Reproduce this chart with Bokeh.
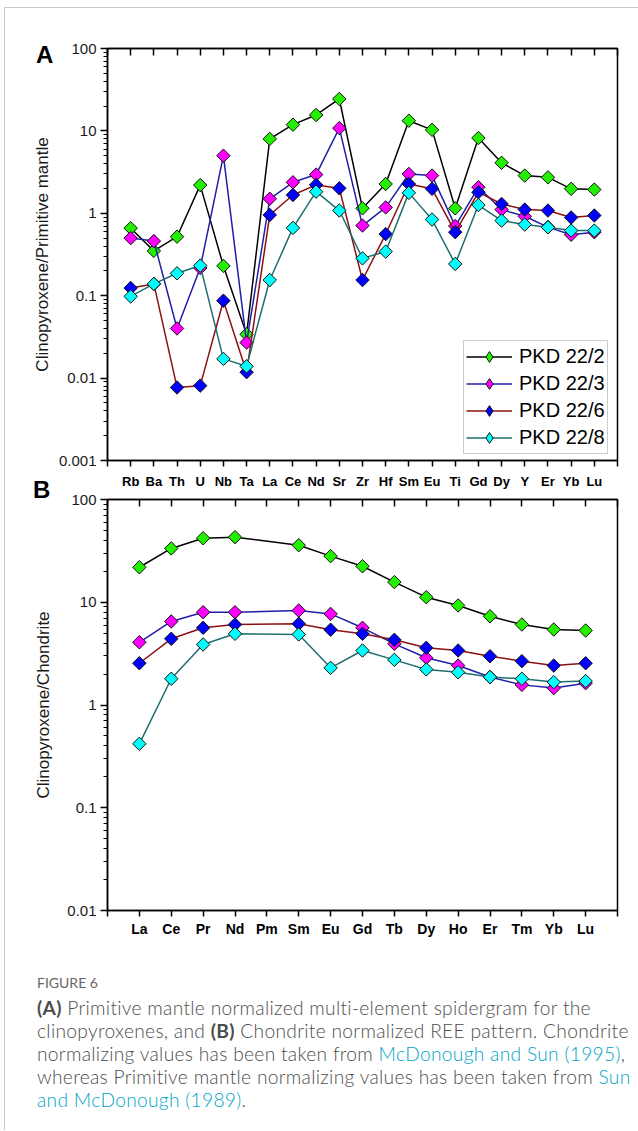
import math
from bokeh.plotting import figure
from bokeh.models import (Range1d, FixedTicker, LinearAxis, Legend, LegendItem,
                          Div, CustomJSTickFormatter)
from bokeh.layouts import column
from bokeh.embed import file_html
from bokeh.resources import INLINE

# ---------------- data ----------------
samples = ["PKD 22/2", "PKD 22/3", "PKD 22/6", "PKD 22/8"]
marker_colors = ["#22f000", "#ff00ff", "#0000ff", "#00ffff"]
line_colors = ["#000000", "#1f1fa8", "#8b1010", "#1f6e6e"]

# Panel A: primitive-mantle normalised spidergram
spider_elements = ["Rb", "Ba", "Th", "U", "Nb", "Ta", "La", "Ce", "Nd", "Sr", "Zr",
                   "Hf", "Sm", "Eu", "Ti", "Gd", "Dy", "Y", "Er", "Yb", "Lu"]
pm_22_2 = [0.66, 0.35, 0.52, 2.2, 0.23, 0.034, 8.0, 11.9, 15.6, 24.4, 1.15,
           2.27, 13.3, 10.3, 1.15, 8.2, 4.1, 2.87, 2.73, 1.98, 1.94]
pm_22_3 = [0.50, 0.46, 0.040, 0.217, 5.0, 0.027, 1.50, 2.38, 2.95, 10.8, 0.71,
           1.18, 3.0, 2.87, 0.70, 2.07, 1.11, 0.92, 0.68, 0.55, 0.59]
pm_22_6 = [0.124, 0.139, 0.0077, 0.0081, 0.087, 0.0118, 0.955, 1.67, 2.21, 2.01, 0.155,
           0.56, 2.27, 1.98, 0.59, 1.80, 1.30, 1.11, 1.08, 0.89, 0.94]
pm_22_8 = [0.098, 0.139, 0.187, 0.232, 0.0171, 0.0139, 0.155, 0.665, 1.83, 1.08, 0.284,
           0.343, 1.77, 0.84, 0.243, 1.26, 0.815, 0.73, 0.676, 0.617, 0.617]

# Panel B: chondrite normalised REE (Pm not analysed)
ree_elements = ["La", "Ce", "Pr", "Nd", "Pm", "Sm", "Eu", "Gd", "Tb", "Dy",
                "Ho", "Er", "Tm", "Yb", "Lu"]
ch_22_2 = [21.9, 33.4, 42.0, 43.0, None, 35.9, 28.1, 22.4, 15.7, 11.2, 9.3, 7.3, 6.07, 5.43, 5.31]
ch_22_3 = [4.08, 6.5, 8.0, 8.0, None, 8.3, 7.7, 5.64, 3.94, 2.88, 2.42, 1.87, 1.57, 1.46, 1.63]
ch_22_6 = [2.55, 4.41, 5.64, 6.07, None, 6.17, 5.4, 4.93, 4.31, 3.6, 3.39, 2.98, 2.67, 2.42, 2.55]
ch_22_8 = [0.419, 1.80, 3.88, 4.93, None, 4.86, 2.3, 3.39, 2.75, 2.22, 2.08, 1.87, 1.80, 1.67, 1.71]

yticks_A = [0.001, 0.01, 0.1, 1, 10, 100]
yticks_B = [0.01, 0.1, 1, 10, 100]

FONT = "Liberation Sans"


def log_minor(majors):
    out = []
    for m in majors[:-1]:
        out += [m * k for k in range(2, 10)]
    return out


def label_overrides(elements):
    ov = {i + 1: e for i, e in enumerate(elements)}
    ov[0] = ""
    ov[len(elements) + 1] = ""
    return ov


def make_panel(elements, series, yticks, width, height, borders, ylabel,
               xfont, show_xlabels, label_standoff, legend=False):
    n = len(elements)
    p = figure(width=width, height=height,
               x_range=Range1d(0, n + 1), y_range=Range1d(yticks[0], yticks[-1]),
               y_axis_type="log", toolbar_location=None, output_backend="svg",
               min_border_top=borders[0], min_border_right=borders[1],
               min_border_bottom=borders[2], min_border_left=borders[3])
    p.xgrid.visible = False
    p.ygrid.visible = False
    p.outline_line_color = "black"
    p.outline_line_width = 1.5
    p.background_fill_color = "white"
    p.border_fill_color = "white"

    xt = FixedTicker(ticks=list(range(0, n + 2)), minor_ticks=[])

    xa = p.xaxis[0]
    xa.ticker = xt
    xa.major_tick_in = 0
    xa.major_tick_out = 6
    xa.major_tick_line_width = 1.5
    xa.axis_line_width = 1.5
    if show_xlabels:
        xa.major_label_overrides = label_overrides(elements)
        xa.major_label_text_font = FONT
        xa.major_label_text_font_style = "bold"
        xa.major_label_text_font_size = xfont
        xa.major_label_text_color = "black"
        xa.major_label_standoff = 4
    else:
        xa.major_label_text_color = None
        xa.major_label_text_font_size = "1px"
        xa.major_label_standoff = 0

    top = LinearAxis(ticker=xt, major_tick_in=7, major_tick_out=0,
                     major_tick_line_width=1.5, axis_line_width=1.5,
                     major_label_text_color=None, major_label_text_font_size="1px",
                     major_label_standoff=0, minor_tick_line_color=None)
    p.add_layout(top, "above")

    ya = p.yaxis[0]
    ya.ticker = FixedTicker(ticks=yticks, minor_ticks=log_minor(yticks))
    ya.formatter = CustomJSTickFormatter(code="return tick.toString();")
    ya.major_tick_in = 0
    ya.major_tick_out = 7
    ya.minor_tick_in = 0
    ya.minor_tick_out = 4
    ya.major_tick_line_width = 1.5
    ya.axis_line_width = 1.5
    ya.major_label_text_font = FONT
    ya.major_label_text_font_size = "15px"
    ya.major_label_text_color = "#1a1a1a"
    ya.major_label_standoff = 4
    ya.axis_label = ylabel
    ya.axis_label_text_font = FONT
    ya.axis_label_text_font_size = "17px"
    ya.axis_label_text_font_style = "normal"
    ya.axis_label_text_color = "#1a1a1a"
    ya.axis_label_standoff = label_standoff

    items = []
    for name, vals, mc, lc in zip(samples, series, marker_colors, line_colors):
        xs = [i + 1 for i, v in enumerate(vals) if v is not None]
        ys = [v for v in vals if v is not None]
        lr = p.line(xs, ys, line_color=lc, line_width=1.5)
        # tiny diamond hidden under each marker: only used for the legend swatch
        dr = p.scatter(xs, ys, marker="diamond", size=1, fill_color=mc,
                       line_color="#111111", line_width=1)
        p.scatter(xs, ys, marker="square", size=9.5, angle=math.pi / 4,
                  fill_color=mc, line_color="#111111", line_width=1)
        items.append(LegendItem(label=name, renderers=[lr, dr]))

    if legend:
        lg = Legend(items=items, location=(356, 6), orientation="vertical",
                    label_text_font=FONT, label_text_font_size="20px",
                    label_text_color="black", glyph_width=46, glyph_height=27,
                    label_height=22, label_standoff=7, spacing=0, padding=2,
                    margin=0, border_line_color="#9a9a9a", border_line_width=1,
                    background_fill_color="white", background_fill_alpha=1)
        p.add_layout(lg)
    return p


pA = make_panel(spider_elements, [pm_22_2, pm_22_3, pm_22_6, pm_22_8], yticks_A,
                633, 462, (40, 21, 10, 102),
                "Clinopyroxene/Primitive mantle", "13px", False, 4, legend=True)
pB = make_panel(ree_elements, [ch_22_2, ch_22_3, ch_22_6, ch_22_8], yticks_B,
                633, 480, (29, 21, 40, 102),
                "Clinopyroxene/Chondrite", "14px", True, 11)

# the element names of panel A sit in the strip above panel B
pB.extra_x_ranges = {"spider": Range1d(0, len(spider_elements) + 1)}
spider_axis = LinearAxis(x_range_name="spider",
                         ticker=FixedTicker(ticks=list(range(1, len(spider_elements) + 1)),
                                            minor_ticks=[]),
                         major_label_overrides=label_overrides(spider_elements),
                         major_tick_in=0, major_tick_out=0, major_tick_line_color=None,
                         minor_tick_line_color=None, axis_line_color=None,
                         major_label_text_font=FONT, major_label_text_font_style="bold",
                         major_label_text_font_size="13px", major_label_text_color="black",
                         major_label_standoff=11)
pB.add_layout(spider_axis, "above")

# panel letters, overlaid as small absolutely-positioned text boxes
letter_css = ("font-family:'Liberation Sans',Arial,sans-serif;font-weight:700;"
              "font-size:24px;line-height:24px;color:#000;")


def letter(txt, left, top):
    return Div(text=f'<div style="{letter_css}">{txt}</div>', width=24, height=24,
               styles={"position": "absolute", "left": f"{left}px", "top": f"{top}px",
                       "z-index": "10"})


letA = letter("A", 26, 30)
letB = letter("B", 23, 465)

link = "color:#00a6c8;"
caption = (
    '<div style="font-family:Lato,sans-serif;color:#4d4d4d;font-weight:300;'
    'padding:19px 0 0 27px;width:610px;">'
    '<div style="font-size:14px;line-height:18px;color:#666666;font-weight:400;">FIGURE 6</div>'
    '<div style="font-size:19.2px;line-height:23px;letter-spacing:0.3px;margin-top:4px;'
    'white-space:nowrap;">'
    '<b style="font-weight:700;">(A)</b> Primitive mantle normalized multi-element spidergram for the<br>'
    'clinopyroxenes, and <b style="font-weight:700;">(B)</b> Chondrite normalized REE pattern. Chondrite<br>'
    'normalizing values has been taken from '
    f'<span style="{link}">McDonough and Sun (1995)</span>,<br>'
    'whereas Primitive mantle normalizing values has been taken from '
    f'<span style="{link}">Sun</span><br>'
    f'<span style="{link}">and McDonough (1989)</span>.'
    '</div></div>'
)
cap = Div(text=caption, width=633, height=170)

layout = column(pA, pB, cap, letA, letB, spacing=0, margin=(7, 0, 0, 4),
                styles={"border-top": "1px solid #c8c8c8",
                        "border-left": "1px solid #c8c8c8",
                        "position": "relative"})

open("out.html", "w").write(file_html(layout, INLINE))
